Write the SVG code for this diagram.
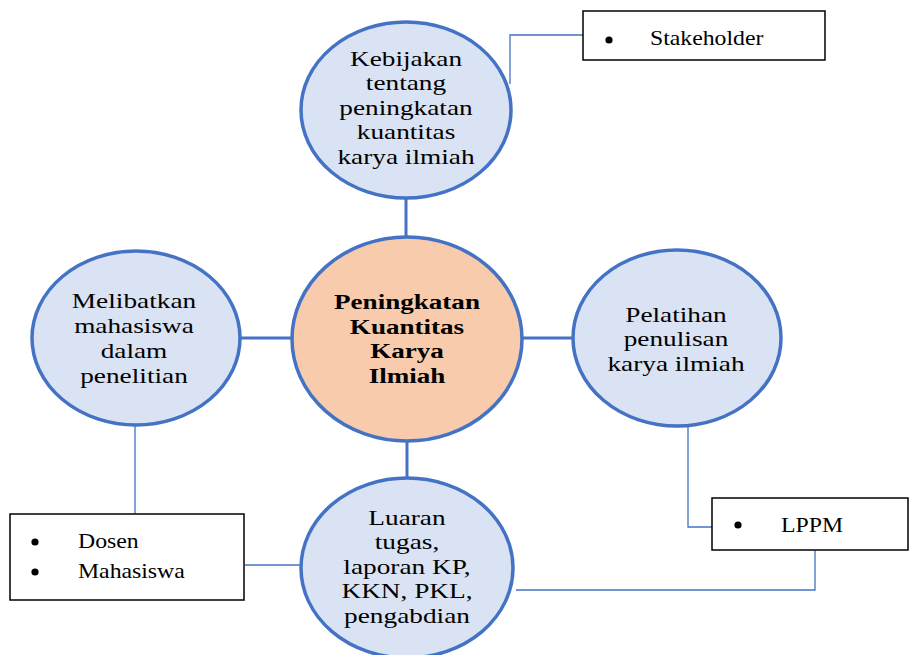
<svg xmlns="http://www.w3.org/2000/svg" width="909" height="655" viewBox="0 0 909 655">
<style>
.node{fill:#DAE3F3;stroke:#4472C4;stroke-width:3.5}
.core{fill:#F8CBAD;stroke:#4472C4;stroke-width:3.5}
.thick{stroke:#4472C4;stroke-width:3;fill:none}
.thin{stroke:#4472C4;stroke-width:1.3;fill:none}
.box{fill:#fff;stroke:#000;stroke-width:1.5}
.t{font-family:"Liberation Serif","Times New Roman",serif;font-size:21px;fill:#000;text-anchor:middle}
.b{font-weight:bold;font-size:21px}
.bt{font-family:"Liberation Serif","Times New Roman",serif;font-size:22px;fill:#000}
</style>
<rect width="909" height="655" fill="#fff"/>
<g id="connectors">
<line class="thick" x1="406" y1="198" x2="406" y2="238"/>
<line class="thick" x1="240" y1="338" x2="293" y2="338"/>
<line class="thick" x1="521" y1="338" x2="574" y2="338"/>
<line class="thick" x1="407" y1="441" x2="407" y2="479"/>
<polyline class="thin" points="510,84 510,35 583,35"/>
<polyline class="thin" points="135,425 135,514"/>
<polyline class="thin" points="245,565 301,565"/>
<polyline class="thin" points="688,427 688,527 712,527"/>
<polyline class="thin" points="815,550 815,590 516,590"/>
</g>
<g id="n-top">
<ellipse class="node" cx="406" cy="110" rx="105" ry="88"/>
<g transform="translate(406,0) scale(1.3,1)">
<text class="t" x="0" y="66">Kebijakan</text>
<text class="t" x="0" y="90.5">tentang</text>
<text class="t" x="0" y="115">peningkatan</text>
<text class="t" x="0" y="139.5">kuantitas</text>
<text class="t" x="0" y="164">karya ilmiah</text>
</g>
</g>
<g id="n-center">
<ellipse class="core" cx="407" cy="339" rx="115" ry="102"/>
<g transform="translate(407,0) scale(1.29,1)">
<text class="t b" x="0" y="309">Peningkatan</text>
<text class="t b" x="0" y="334">Kuantitas</text>
<text class="t b" x="0" y="358.5">Karya</text>
<text class="t b" x="0" y="383">Ilmiah</text>
</g>
</g>
<g id="n-left">
<ellipse class="node" cx="136" cy="338" rx="104" ry="87"/>
<g transform="translate(134,0) scale(1.3,1)">
<text class="t" x="0" y="308">Melibatkan</text>
<text class="t" x="0" y="333">mahasiswa</text>
<text class="t" x="0" y="358">dalam</text>
<text class="t" x="0" y="383">penelitian</text>
</g>
</g>
<g id="n-right">
<ellipse class="node" cx="677" cy="338" rx="104" ry="88"/>
<g transform="translate(676,0) scale(1.3,1)">
<text class="t" x="0" y="322">Pelatihan</text>
<text class="t" x="0" y="346.5">penulisan</text>
<text class="t" x="0" y="371">karya ilmiah</text>
</g>
</g>
<g id="n-bottom">
<ellipse class="node" cx="407" cy="568" rx="106" ry="90"/>
<g transform="translate(407,0) scale(1.3,1)">
<text class="t" x="0" y="525">Luaran</text>
<text class="t" x="0" y="549.5">tugas,</text>
<text class="t" x="0" y="574">laporan KP,</text>
<text class="t" x="0" y="598.5">KKN, PKL,</text>
<text class="t" x="0" y="623">pengabdian</text>
</g>
</g>
<g id="b-stakeholder">
<rect class="box" x="583" y="11" width="242" height="49"/>
<circle cx="609" cy="40" r="3.6" fill="#000"/>
<text class="bt" x="650" y="45" transform="translate(650,0) scale(1.08,1) translate(-650,0)">Stakeholder</text>
</g>
<g id="b-dosen">
<rect class="box" x="10" y="514" width="234" height="86"/>
<circle cx="35" cy="542" r="3.6" fill="#000"/>
<circle cx="35" cy="572" r="3.6" fill="#000"/>
<text class="bt" x="78" y="548" transform="translate(78,0) scale(1.08,1) translate(-78,0)">Dosen</text>
<text class="bt" x="78" y="578" transform="translate(78,0) scale(1.08,1) translate(-78,0)">Mahasiswa</text>
</g>
<g id="b-lppm">
<rect class="box" x="712" y="498" width="196" height="52"/>
<circle cx="738" cy="525" r="3.6" fill="#000"/>
<text class="bt" x="781" y="532" transform="translate(781,0) scale(1.08,1) translate(-781,0)">LPPM</text>
</g>
</svg>
